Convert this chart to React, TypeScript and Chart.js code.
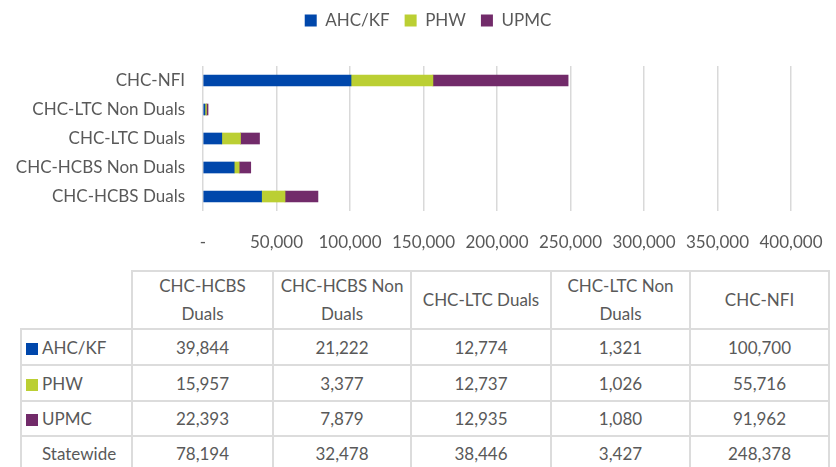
import React, { useEffect, useRef } from "react";
import { Chart, registerables } from "chart.js";

Chart.register(...registerables);

const categories = ["CHC-HCBS Duals", "CHC-HCBS Non Duals", "CHC-LTC Duals", "CHC-LTC Non Duals", "CHC-NFI"];
const tableHeaders = ["CHC-HCBS\nDuals", "CHC-HCBS Non\nDuals", "CHC-LTC Duals", "CHC-LTC Non\nDuals", "CHC-NFI"];
const seriesNames = ["AHC/KF", "PHW", "UPMC"];
const ahcKf = [39844, 21222, 12774, 1321, 100700];
const phw = [15957, 3377, 12737, 1026, 55716];
const upmc = [22393, 7879, 12935, 1080, 91962];
const statewide = [78194, 32478, 38446, 3427, 248378];
const seriesColors = ["#0047AB", "#BBCF33", "#722B6A"];
const xTickValues = [0, 50000, 100000, 150000, 200000, 250000, 300000, 350000, 400000];

const seriesValues = [ahcKf, phw, upmc];
const FONT = "Lato, 'Open Sans', sans-serif";
const TEXT = "#595959";
const fmt = (v: number) => v.toLocaleString("en-US");

function ChartBox() {
  const ref = useRef<HTMLCanvasElement | null>(null);
  useEffect(() => {
    const canvas = ref.current;
    if (!canvas) return;
    const legendSpacer = {
      id: "legendSpacer",
      beforeInit(chart: any) {
        const legend = chart.legend;
        if (!legend) return;
        const orig = legend.fit;
        legend.fit = function () {
          orig.call(this);
          this.height = 69;
        };
      },
      afterLayout(chart: any) {
        const legend = chart.legend;
        if (!legend) return;
        legend.left = 65;
        legend.right = 791;
      },
    };
    const chart = new Chart(canvas, {
      type: "bar",
      data: {
        labels: [...categories].reverse(),
        datasets: seriesNames.map((name, i) => ({
          label: name,
          data: [...seriesValues[i]].reverse(),
          backgroundColor: seriesColors[i],
          borderWidth: 0,
          barThickness: 11,
        })),
      },
      options: {
        indexAxis: "y",
        animation: false,
        responsive: false,
        devicePixelRatio: 1,
        layout: { padding: { top: -3, left: 0, right: 45, bottom: 0 } },
        plugins: {
          legend: {
            position: "top",
            labels: {
              boxWidth: 12,
              boxHeight: 12,
              padding: 15,
              color: TEXT,
              font: { family: FONT, size: 17 },
            },
          },
          tooltip: { enabled: false },
        },
        scales: {
          x: {
            type: "linear",
            stacked: true,
            min: 0,
            max: 400000,
            afterBuildTicks: (s: any) => {
              s.ticks = xTickValues.map((v) => ({ value: v }));
            },
            afterFit: (s: any) => {
              s.height = 51;
              s.paddingLeft = 0;
              s.paddingRight = 0;
            },
            grid: { color: "#d9d9d9", lineWidth: 1.5, drawTicks: false },
            border: { display: false },
            ticks: {
              autoSkip: false,
              maxRotation: 0,
              padding: 21,
              color: TEXT,
              font: { family: FONT, size: 17 },
              callback: (v: any) => (Number(v) === 0 ? "-" : fmt(Number(v))),
            },
          },
          y: {
            stacked: true,
            afterFit: (s: any) => {
              s.width = 203;
            },
            grid: { display: false, drawTicks: false },
            border: { display: false },
            ticks: {
              padding: 18,
              color: TEXT,
              font: { family: FONT, size: 17 },
            },
          },
        },
      },
      plugins: [legendSpacer],
    } as any);
    return () => chart.destroy();
  }, []);
  return <canvas ref={ref} width={836} height={262} style={{ display: "block", width: 836, height: 262 }} />;
}

const colWidths = [111, 141, 138, 140, 139, 139];
const rowHeights = [36, 36, 35, 35];

export default function App() {
  const border = "2px solid #dcdcdc";
  const cellBase: React.CSSProperties = {
    border,
    padding: 0,
    textAlign: "center",
    verticalAlign: "middle",
    color: TEXT,
    fontFamily: FONT,
    fontSize: 17,
  };
  const rows = [
    ...seriesNames.map((name, i) => ({ name, color: seriesColors[i], values: seriesValues[i] })),
    { name: "Statewide", color: null as string | null, values: statewide },
  ];
  return (
    <div
      style={{
        position: "fixed",
        left: 0,
        top: 0,
        width: 836,
        height: 467,
        background: "#fff",
        overflow: "hidden",
      }}
    >
      <ChartBox />
      <table
        style={{
          position: "absolute",
          left: 20,
          top: 270,
          width: colWidths.reduce((a, b) => a + b, 0),
          borderCollapse: "collapse",
          tableLayout: "fixed",
        }}
      >
        <colgroup>
          {colWidths.map((w, i) => (
            <col key={i} style={{ width: w }} />
          ))}
        </colgroup>
        <tbody>
          <tr style={{ height: 57 }}>
            <td style={{ ...cellBase, border: "none" }}></td>
            {tableHeaders.map((h, i) => (
              <td key={i} style={{ ...cellBase, whiteSpace: "pre-line", lineHeight: "28px" }}>
                {h}
              </td>
            ))}
          </tr>
          {rows.map((r, ri) => (
            <tr key={ri} style={{ height: rowHeights[ri] }}>
              <td style={{ ...cellBase, textAlign: "left", paddingLeft: 4, whiteSpace: "nowrap" }}>
                <span
                  style={{
                    display: "inline-block",
                    width: 12,
                    height: 12,
                    background: r.color || "transparent",
                    marginRight: 4,
                    verticalAlign: "-1px",
                  }}
                />
                {r.name}
              </td>
              {r.values.map((v, ci) => (
                <td key={ci} style={cellBase}>
                  {fmt(v)}
                </td>
              ))}
            </tr>
          ))}
        </tbody>
      </table>
    </div>
  );
}
